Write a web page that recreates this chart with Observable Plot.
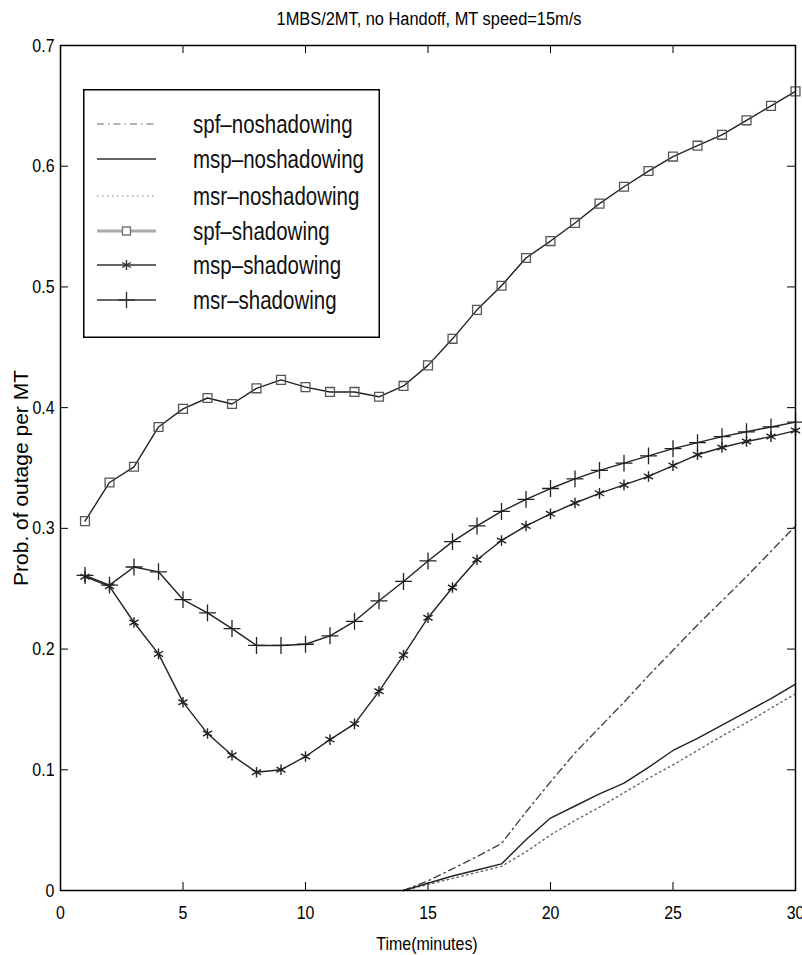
<!DOCTYPE html>
<html><head><meta charset="utf-8">
<script src="https://cdn.jsdelivr.net/npm/d3@7"></script>
<script src="https://cdn.jsdelivr.net/npm/@observablehq/plot@0.6"></script>
<style>
body{margin:0;background:#fff;}
#wrap{position:relative;width:802px;height:955px;overflow:hidden;font-family:"Liberation Sans",Arial,Helvetica,sans-serif;color:#000;}
.ovl{position:absolute;white-space:nowrap;line-height:1;}
#title{left:0;width:858px;top:10px;text-align:center;font-size:18px;transform:scaleX(0.91);transform-origin:429px 0;}
#xlabel{left:0;width:854px;top:934px;text-align:center;font-size:19px;transform:scaleX(0.84);transform-origin:427px 0;}
#ylabel{left:20px;top:478px;font-size:21px;transform:translate(-50%,-50%) rotate(-90deg);}
#legend{position:absolute;left:83px;top:89px;}
</style></head><body>
<div id="wrap">
  <div id="chart"></div>
  <div id="title" class="ovl">1MBS/2MT, no Handoff, MT speed=15m/s</div>
  <div id="xlabel" class="ovl">Time(minutes)</div>
  <div id="ylabel" class="ovl">Prob. of outage per MT</div>
  <div id="legend"></div>
</div>
<script>
// ---- data ----
const time = [1,2,3,4,5,6,7,8,9,10,11,12,13,14,15,16,17,18,19,20,21,22,23,24,25,26,27,28,29,30];
const spfShadowing = [0.306,0.338,0.351,0.384,0.399,0.408,0.403,0.416,0.423,0.417,0.413,0.413,0.409,0.418,0.435,0.457,0.481,0.501,0.524,0.538,0.553,0.569,0.583,0.596,0.608,0.617,0.626,0.638,0.650,0.662];
const mspShadowing = [0.260,0.252,0.222,0.196,0.156,0.130,0.112,0.098,0.100,0.111,0.125,0.138,0.165,0.195,0.226,0.251,0.274,0.290,0.302,0.312,0.321,0.329,0.336,0.343,0.352,0.361,0.367,0.372,0.376,0.381];
const msrShadowing = [0.261,0.253,0.268,0.264,0.241,0.230,0.217,0.203,0.203,0.204,0.211,0.223,0.240,0.256,0.273,0.289,0.302,0.314,0.324,0.333,0.341,0.348,0.354,0.360,0.366,0.371,0.376,0.380,0.384,0.388];
const timeNo = [14,15,16,17,18,19,20,21,22,23,24,25,26,27,28,29,30];
const spfNoShadowing = [0,0.008,0.018,0.028,0.039,0.065,0.090,0.114,0.135,0.156,0.178,0.199,0.220,0.240,0.260,0.281,0.302];
const mspNoShadowing = [0,0.006,0.012,0.017,0.022,0.042,0.060,0.070,0.080,0.089,0.102,0.116,0.126,0.137,0.148,0.159,0.171];
const msrNoShadowing = [0,0.005,0.010,0.015,0.020,0.032,0.046,0.058,0.069,0.081,0.093,0.104,0.116,0.128,0.139,0.151,0.163];
const seriesNames = ["spf\u2013noshadowing","msp\u2013noshadowing","msr\u2013noshadowing","spf\u2013shadowing","msp\u2013shadowing","msr\u2013shadowing"];
const xTicks = [0,5,10,15,20,25,30];
const yTicks = [0,0.1,0.2,0.3,0.4,0.5,0.6,0.7];

// ---- build tables ----
const rows = (ts, vs, name) => ts.map((t, i) => ({t, v: vs[i], name}));
const dSpfNo = rows(timeNo, spfNoShadowing, seriesNames[0]);
const dMspNo = rows(timeNo, mspNoShadowing, seriesNames[1]);
const dMsrNo = rows(timeNo, msrNoShadowing, seriesNames[2]);
const dSpf = rows(time, spfShadowing, seriesNames[3]);
const dMsp = rows(time, mspShadowing, seriesNames[4]);
const dMsr = rows(time, msrShadowing, seriesNames[5]);

const W = 802, H = 955, mL = 60, mR = 7, mT = 45, mB = 65;
const innerH = H - mT - mB, innerW = W - mL - mR;
const tick = 8;
const font = '"Liberation Sans",Arial,Helvetica,sans-serif';

const chart = Plot.plot({
  width: W, height: H,
  marginLeft: mL, marginRight: mR, marginTop: mT, marginBottom: mB,
  style: {fontFamily: font, fontSize: "19px", color: "#000", background: "#fff", overflow: "visible"},
  x: {domain: [0, 30]},
  y: {domain: [0, 0.7]},
  marks: [
    Plot.axisX({ticks: xTicks, tickSize: 0, tickPadding: 15, label: null, tickFormat: d => String(d), fontSize: 19}),
    Plot.axisY({ticks: yTicks, tickSize: 0, tickPadding: 6, label: null, tickFormat: d => d === 0 ? "0" : d.toFixed(1), fontSize: 19}),
    // inward ticks (MATLAB style)
    Plot.ruleX(xTicks, {x: d => d, insetTop: innerH - tick, stroke: "#000", strokeWidth: 1}),
    Plot.ruleX(xTicks, {x: d => d, insetBottom: innerH - tick, stroke: "#000", strokeWidth: 1}),
    Plot.ruleY(yTicks, {y: d => d, insetRight: innerW - tick, stroke: "#000", strokeWidth: 1}),
    Plot.ruleY(yTicks, {y: d => d, insetLeft: innerW - tick, stroke: "#000", strokeWidth: 1}),
    // no-shadowing lines
    Plot.line(dSpfNo, {x: "t", y: "v", stroke: "#444", strokeWidth: 1.4, strokeDasharray: "7,4,1.5,4"}),
    Plot.line(dMsrNo, {x: "t", y: "v", stroke: "#666", strokeWidth: 1.4, strokeDasharray: "1.5,3.5"}),
    Plot.line(dMspNo, {x: "t", y: "v", stroke: "#222", strokeWidth: 1.4}),
    // shadowing lines + markers
    Plot.line(dSpf, {x: "t", y: "v", stroke: "#222", strokeWidth: 1.4}),
    Plot.dot(dSpf, {x: "t", y: "v", symbol: "square", r: 5, fill: "none", stroke: "#555", strokeWidth: 1.3}),
    Plot.line(dMsp, {x: "t", y: "v", stroke: "#222", strokeWidth: 1.4}),
    Plot.dot(dMsp, {x: "t", y: "v", symbol: "asterisk", r: 5, stroke: "#222", strokeWidth: 1.4}),
    Plot.line(dMsr, {x: "t", y: "v", stroke: "#222", strokeWidth: 1.4}),
    Plot.dot(dMsr, {x: "t", y: "v", symbol: "plus", r: 5.5, stroke: "#222", strokeWidth: 1.3}),
    Plot.frame({stroke: "#000", strokeWidth: 1.5})
  ]
});
document.getElementById("chart").appendChild(chart);

// narrow the tick labels horizontally (condensed look of the original), around their anchor
function squeeze(sel, k, anchor) {
  d3.select(chart).selectAll(sel).each(function() {
    const b = this.getBBox();
    const ax = anchor === "end" ? b.x + b.width : b.x + b.width / 2;
    const ay = b.y + b.height / 2;
    const t = this.getAttribute("transform") || "";
    this.setAttribute("transform", `${t} translate(${ax},${ay}) scale(${k},1) translate(${-ax},${-ay})`);
  });
}
squeeze('g[aria-label="x-axis tick label"] text', 0.84, "middle");
squeeze('g[aria-label="y-axis tick label"] text', 0.84, "end");

// ---- legend ----
const legendStyles = [
  {stroke: "#999", width: 1.5, dash: "7,4,1.5,4", sym: null},
  {stroke: "#333", width: 1.5, dash: null, sym: null},
  {stroke: "#aaa", width: 1.5, dash: "1.5,3.5", sym: null},
  {stroke: "#aaa", width: 3, dash: null, sym: "square"},
  {stroke: "#333", width: 1.5, dash: null, sym: "asterisk"},
  {stroke: "#333", width: 1.5, dash: null, sym: "plus"}
];
const symMap = {square: d3.symbolSquare, asterisk: d3.symbolAsterisk, plus: d3.symbolPlus};
const lw = 297, lh = 249;
const lsvg = d3.select("#legend").append("svg").attr("width", lw).attr("height", lh);
lsvg.append("rect").attr("x", 0.75).attr("y", 0.75).attr("width", lw - 1.5).attr("height", lh - 1.5)
  .attr("fill", "#fff").attr("stroke", "#000").attr("stroke-width", 1.5);
const rowY = [35, 70, 107, 142, 176, 211];
seriesNames.forEach((name, i) => {
  const s = legendStyles[i];
  const g = lsvg.append("g").attr("transform", `translate(0,${rowY[i]})`);
  g.append("line").attr("x1", 14).attr("x2", 73).attr("y1", 0).attr("y2", 0)
    .attr("stroke", s.stroke).attr("stroke-width", s.width).attr("stroke-dasharray", s.dash);
  if (s.sym) {
    const size = s.sym === "square" ? 64 : s.sym === "plus" ? 90 : 70;
    g.append("path").attr("transform", "translate(43.5,0)")
      .attr("d", d3.symbol(symMap[s.sym], size)())
      .attr("fill", s.sym === "square" ? "#fff" : "none")
      .attr("stroke", s.sym === "square" ? "#777" : "#333").attr("stroke-width", 1.4);
  }
  g.append("text").attr("transform", "translate(110,0) scale(0.82,1)").attr("dy", "0.35em")
    .attr("font-family", font).attr("font-size", 25).attr("fill", "#111").text(name);
});
</script>
</body></html>
